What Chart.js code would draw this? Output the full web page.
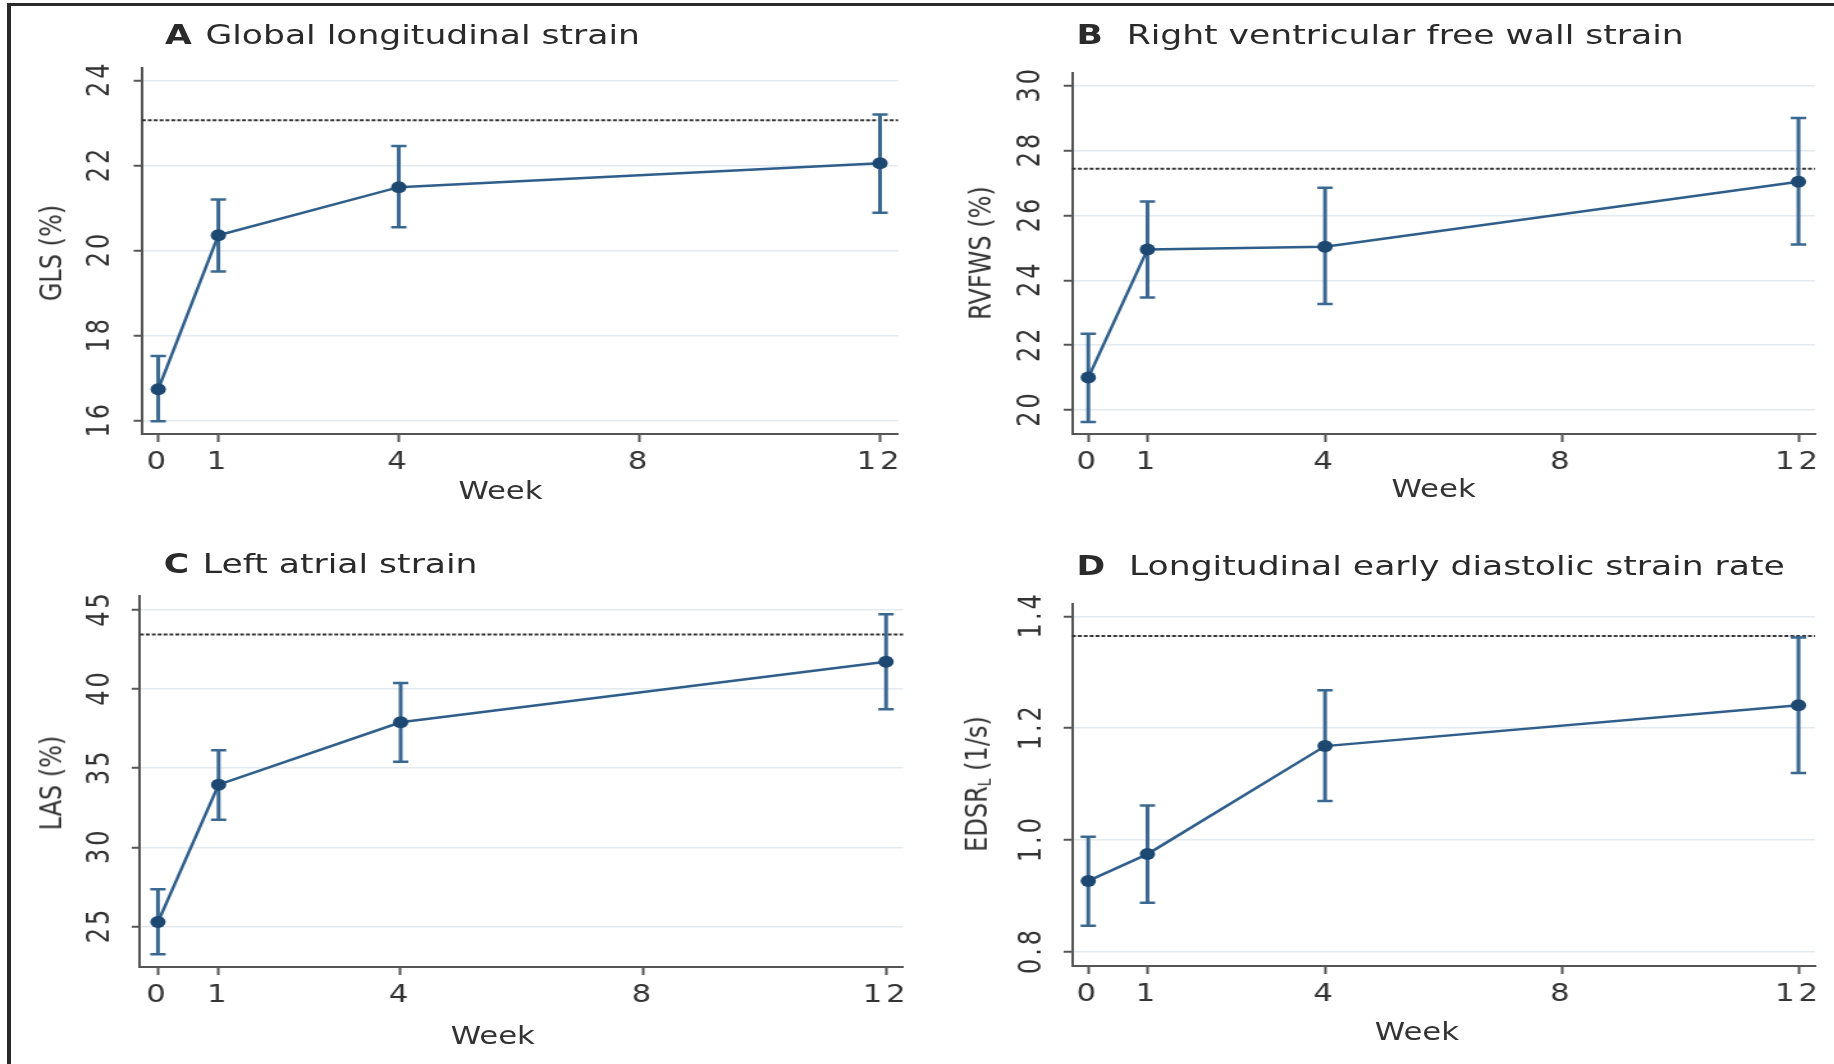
<!DOCTYPE html>
<html>
<head>
<meta charset="utf-8">
<script src="https://cdn.jsdelivr.net/npm/chart.js@4.4.1/dist/chart.umd.min.js"></script>
<style>
html,body{margin:0;padding:0;background:#fff;width:1834px;height:1064px;overflow:hidden;font-family:"DejaVu Sans",Verdana,sans-serif;color:#333}
#frame{position:absolute;left:7px;top:3px;right:-10px;bottom:-10px;border-top:3px solid #2a2a2a;border-left:4px solid #2a2a2a;z-index:5;pointer-events:none}
#wrap{position:absolute;left:0;top:0;width:1433px;height:1064px;transform:scaleX(1.28);transform-origin:0 0}
canvas{position:absolute}
.t{position:absolute;white-space:nowrap;font-size:27px;line-height:27px;color:#2a2a2a}
.t b{margin-right:2px}
.t b.w{margin-right:10px}
.xt{position:absolute;font-size:24px;line-height:24px;white-space:nowrap;color:#333;transform:translate(-50%,-50%)}
.yt{position:absolute;font-size:24px;line-height:24px;white-space:nowrap;color:#333;transform:translate(-50%,-50%) rotate(-90deg)}
.yt sub{font-size:14px;vertical-align:-3px}
</style>
</head>
<body>
<div id="frame"></div>
<div id="wrap">
  <canvas id="cA" width="716" height="532" style="left:0;top:0"></canvas>
  <canvas id="cB" width="717" height="532" style="left:716px;top:0"></canvas>
  <canvas id="cC" width="716" height="532" style="left:0;top:532px"></canvas>
  <canvas id="cD" width="717" height="532" style="left:716px;top:532px"></canvas>

  <div class="t" style="left:129px;top:21px"><b>A</b> Global longitudinal strain</div>
  <div class="t" style="left:841px;top:21px"><b class="w">B</b> Right ventricular free wall strain</div>
  <div class="t" style="left:128px;top:550px"><b>C</b> Left atrial strain</div>
  <div class="t" style="left:841px;top:552px"><b class="w">D</b> Longitudinal early diastolic strain rate</div>

  <div class="xt" style="left:391px;top:491px">Week</div>
  <div class="xt" style="left:1120px;top:489px">Week</div>
  <div class="xt" style="left:385px;top:1036px">Week</div>
  <div class="xt" style="left:1107px;top:1032px">Week</div>

  <div class="yt" style="left:40px;top:253px">GLS (%)</div>
  <div class="yt" style="left:766px;top:253px">RVFWS (%)</div>
  <div class="yt" style="left:40px;top:783px">LAS (%)</div>
  <div class="yt" style="left:766px;top:784px">EDSR<sub>L</sub> (1/s)</div>
</div>
<script>
// weeks where strain was measured, and x axis ticks
const weeks = [0, 1, 4, 12];
const xTicks = [0, 1, 4, 8, 12];

// A  global longitudinal strain
const glsMean = [16.74, 20.36, 21.49, 22.05];
const glsLow  = [15.99, 19.51, 20.55, 20.89];
const glsHigh = [17.52, 21.20, 22.46, 23.20];
const glsRef = 23.06;
const glsTicks = [16, 18, 20, 22, 24];
const glsLabels = ['16', '18', '20', '22', '24'];

// B  right ventricular free wall strain
const rvMean = [21.00, 24.95, 25.03, 27.04];
const rvLow  = [19.63, 23.47, 23.27, 25.10];
const rvHigh = [22.35, 26.43, 26.85, 29.00];
const rvRef = 27.44;
const rvTicks = [20, 22, 24, 26, 28, 30];
const rvLabels = ['20', '22', '24', '26', '28', '30'];

// C  left atrial strain
const laMean = [25.28, 33.96, 37.90, 41.72];
const laLow  = [23.24, 31.75, 35.40, 38.72];
const laHigh = [27.36, 36.14, 40.39, 44.72];
const laRef = 43.44;
const laTicks = [25, 30, 35, 40, 45];
const laLabels = ['25', '30', '35', '40', '45'];

// D  longitudinal early diastolic strain rate
const edMean = [0.927, 0.975, 1.168, 1.241];
const edLow  = [0.847, 0.888, 1.070, 1.120];
const edHigh = [1.006, 1.062, 1.268, 1.362];
const edRef = 1.365;
const edTicks = [0.8, 1.0, 1.2, 1.4];
const edLabels = ['0.8', '1.0', '1.2', '1.4'];

const AXIS = '#555555', LINE = '#2f5e8b', DOT = '#1c4872', BAR = '#3b6891';

const errPlugin = {
  id: 'err',
  beforeDraw(c) { c.ctx.letterSpacing = '3px'; },
  beforeDatasetsDraw(c, args, o) {
    const {ctx, chartArea: a, scales: {x, y}} = c;
    ctx.save();
    // reference line
    ctx.strokeStyle = '#333'; ctx.lineWidth = 2; ctx.setLineDash([3, 1.6]);
    const ry = y.getPixelForValue(o.ref);
    ctx.beginPath(); ctx.moveTo(a.left, ry); ctx.lineTo(a.right, ry); ctx.stroke();
    ctx.setLineDash([]); ctx.strokeStyle = BAR;
    o.low.forEach((lo, i) => {
      const px = x.getPixelForValue(weeks[i]);
      const p1 = y.getPixelForValue(lo), p2 = y.getPixelForValue(o.high[i]);
      ctx.lineWidth = 3;
      ctx.beginPath(); ctx.moveTo(px, p1); ctx.lineTo(px, p2); ctx.stroke();
      ctx.lineWidth = 2.5;
      ctx.beginPath(); ctx.moveTo(px - 6, p1); ctx.lineTo(px + 6, p1);
      ctx.moveTo(px - 6, p2); ctx.lineTo(px + 6, p2); ctx.stroke();
    });
    ctx.restore();
  },
  afterDraw(c, args, o) {
    const {ctx, scales: {y}} = c;
    ctx.save();
    ctx.font = '24px "DejaVu Sans"'; ctx.fillStyle = '#333';
    ctx.textAlign = 'center'; ctx.textBaseline = 'middle';
    o.ticks.forEach((v, i) => {
      ctx.save();
      ctx.translate(y.right - o.labelOff, y.getPixelForValue(v) - 1.5);
      ctx.rotate(-Math.PI / 2);
      ctx.fillText(o.labels[i], 0, 1);
      ctx.restore();
    });
    ctx.restore();
  }
};

function panel(id, mean, low, high, ref, yTicks, yLabels, yMin, yMax, xMin, xMax, lay) {
  new Chart(document.getElementById(id), {
    type: 'line',
    data: {
      datasets: [{
        data: weeks.map((w, i) => ({x: w, y: mean[i]})),
        borderColor: LINE, borderWidth: 2.5, tension: 0,
        pointRadius: 6, pointBackgroundColor: DOT, pointBorderWidth: 0
      }]
    },
    options: {
      responsive: false, animation: false, devicePixelRatio: 1,
      layout: {padding: {left: 0, top: lay.top, right: lay.right, bottom: 0}},
      plugins: {
        legend: {display: false}, tooltip: {enabled: false},
        err: {ref, low, high, ticks: yTicks, labels: yLabels, labelOff: lay.labelOff}
      },
      scales: {
        x: {
          type: 'linear', min: xMin, max: xMax,
          afterBuildTicks: s => { s.ticks = xTicks.map(v => ({value: v})); },
          afterFit: s => { s.height = lay.xH; },
          ticks: {font: {family: 'DejaVu Sans', size: 24}, color: '#333', padding: 6,
                  maxRotation: 0, autoSkip: false, callback: v => String(v)},
          grid: {drawOnChartArea: false, tickColor: AXIS, tickLength: 8, tickWidth: 2},
          border: {color: AXIS, width: 2}
        },
        y: {
          type: 'linear', min: yMin, max: yMax,
          afterBuildTicks: s => { s.ticks = yTicks.map(v => ({value: v})); },
          afterFit: s => { s.width = lay.yW; },
          ticks: {display: false},
          grid: {color: '#e3eaf0', lineWidth: 1.5, tickColor: AXIS, tickLength: 6.5, tickWidth: 2},
          border: {color: AXIS, width: 2}
        }
      }
    },
    plugins: [errPlugin]
  });
}

panel('cA', glsMean, glsLow, glsHigh, glsRef, glsTicks, glsLabels, 15.69, 24.29, -0.27, 12.30,
      {top: 68, right: 14.4, xH: 98, yW: 110.9, labelOff: 33});
panel('cB', rvMean, rvLow, rvHigh, rvRef, rvTicks, rvLabels, 19.26, 30.39, -0.275, 12.28,
      {top: 73, right: 15, xH: 98, yW: 121.5, labelOff: 33});
panel('cC', laMean, laLow, laHigh, laRef, laTicks, laLabels, 22.44, 45.88, -0.295, 12.28,
      {top: 64, right: 10.5, xH: 97, yW: 109.4, labelOff: 32});
panel('cD', edMean, edLow, edHigh, edRef, edTicks, edLabels, 0.775, 1.422, -0.275, 12.28,
      {top: 72, right: 15, xH: 98, yW: 121.5, labelOff: 32});
</script>
</body>
</html>
